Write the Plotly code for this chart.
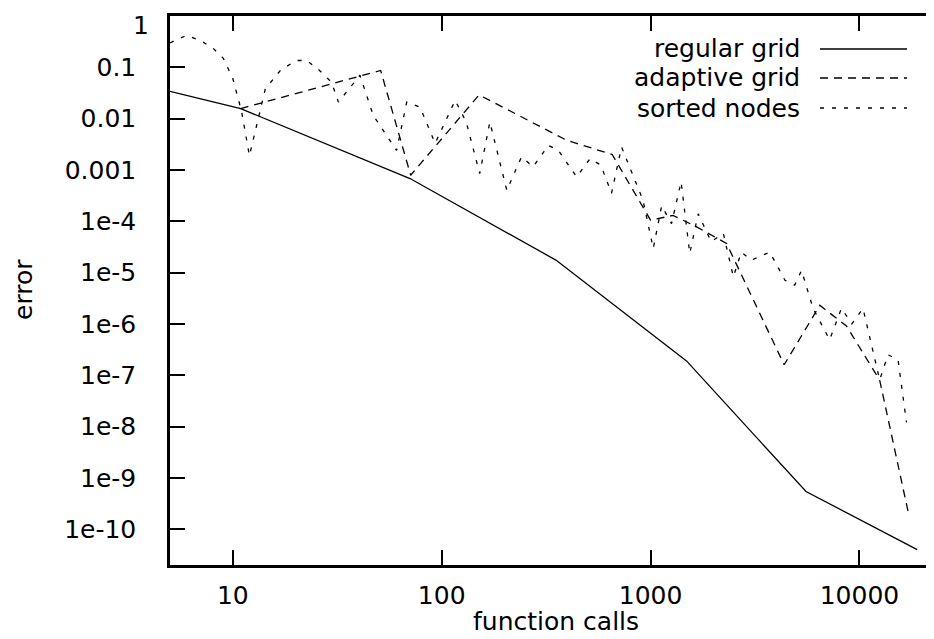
import plotly.graph_objects as go
import numpy as np

# ---------------- data ----------------
regular_x = [5, 10.9, 70.5, 352, 1486, 5550, 18900]
regular_y = [0.034, 0.0157, 6.8e-4, 1.75e-5, 1.9e-7, 5.4e-10, 4.0e-11]

adaptive_x = [10.9, 51, 71, 151, 396, 655, 1000, 1280, 1660, 2310, 4360, 6460, 8670, 12500, 17100]
adaptive_y = [0.0157, 0.087, 7.9e-4, 0.029, 0.0038, 0.002, 1.05e-4, 1.3e-4, 7.8e-5, 3.7e-5,
              1.6e-7, 2.3e-6, 9.1e-7, 8.0e-8, 2.2e-10]

sorted_x = [5, 6, 7, 8, 9, 10, 11, 12, 14.3, 17, 20.2, 22.6, 26, 29.7, 32, 40.6, 47, 60.8, 68,
            78.7, 93, 116, 131, 152, 170, 205, 241, 274, 324, 362, 443, 513, 578, 650, 726,
            919, 1030, 1130, 1260, 1400, 1540, 1690, 1950, 2230, 2490, 2720, 3040, 3720, 4400,
            4900, 5280, 6000, 7200, 8200, 9200, 10400, 12500, 13700, 15300, 16800]
sorted_y = [0.3, 0.42, 0.33, 0.24, 0.15, 0.06, 0.014, 0.0019, 0.038, 0.09, 0.136, 0.136, 0.087,
            0.051, 0.021, 0.07, 0.0116, 0.0024, 0.021, 0.0168, 0.0033, 0.0227, 0.0086, 8.5e-4,
            0.0086, 4e-4, 0.0018, 0.00115, 0.003, 0.0024, 7.3e-4, 0.00167, 0.00124, 3.5e-4,
            0.0028, 2.6e-4, 2.95e-5, 2e-4, 9e-5, 5.9e-4, 2.36e-5, 1.4e-4, 4e-5, 5.8e-5, 8.3e-6,
            2.5e-5, 1.75e-5, 2.5e-5, 7.1e-6, 5.7e-6, 1.1e-5, 2e-6, 4.9e-7, 2e-6, 1.0e-6, 2e-6,
            8.1e-8, 2.5e-7, 2e-7, 1.2e-8]

series_names = ["regular grid", "adaptive grid", "sorted nodes"]
series_dash = ["solid", "8px,6px", "4px,8px"]

x_tickvals = [10, 100, 1000, 10000]
x_ticktext = ["10", "100", "1000", "10000"]
y_tickvals = [1, 0.1, 0.01, 0.001, 1e-4, 1e-5, 1e-6, 1e-7, 1e-8, 1e-9, 1e-10]
y_ticktext = ["1", "0.1", "0.01", "0.001", "1e-4", "1e-5", "1e-6", "1e-7", "1e-8", "1e-9", "1e-10"]

x_title = "function calls"
y_title = "error"

# ---------------- figure ----------------
# the page body has an 8px margin, so the figure starts at (8, 8) on screen
OFF = 8
W, H = 934 - OFF, 639 - OFF
L, R, T, B = 170 - OFF, 0, 16 - OFF, 639 - 565
pw, ph = W - L - R, H - T - B
FONT = "DejaVu Sans, Verdana, sans-serif"
FS = 25


def px(xpix):  # screen pixel -> paper coordinate
    return (xpix - OFF - L) / pw


def py(ypix):
    return (H - B - (ypix - OFF)) / ph


fig = go.Figure()
for name, xs, ys, dash in zip(series_names,
                              [regular_x, adaptive_x, sorted_x],
                              [regular_y, adaptive_y, sorted_y],
                              series_dash):
    fig.add_trace(go.Scatter(x=xs, y=ys, mode="lines", name=name, showlegend=False,
                             line=dict(color="black", width=1.3, dash=dash)))

# empty trace carrying the right-hand tick axis
fig.add_trace(go.Scatter(x=[], y=[], yaxis="y2", showlegend=False, hoverinfo="skip"))

xr = [np.log10(5), 4.357]
yr = [np.log10(2e-11), 0.0005]

# the top label ("1") is nudged down inside the canvas, as in the reference
y_ticktext_axis = [""] + y_ticktext[1:]

fig.update_layout(
    width=W, height=H,
    margin=dict(l=L, r=R, t=T, b=B, pad=0),
    paper_bgcolor="white", plot_bgcolor="white",
    font=dict(family=FONT, size=FS, color="black"),
    xaxis=dict(type="log", range=xr, showgrid=False, zeroline=False,
               showline=True, linecolor="black", linewidth=2.5, mirror="ticks",
               ticks="inside", ticklen=15, tickwidth=2, tickcolor="black",
               tickvals=x_tickvals, ticktext=x_ticktext, ticklabelstandoff=6),
    yaxis=dict(type="log", range=yr, showgrid=False, zeroline=False,
               showline=True, linecolor="black", linewidth=2.5, mirror=False,
               ticks="inside", ticklen=15, tickwidth=2, tickcolor="black",
               tickvals=y_tickvals, ticktext=y_ticktext_axis, ticklabelstandoff=26),
    yaxis2=dict(type="log", range=yr, overlaying="y", side="right", anchor="free",
                position=1.0, showgrid=False, zeroline=False, showline=False,
                ticks="inside", ticklen=8, tickwidth=2, tickcolor="black",
                tickvals=y_tickvals, showticklabels=False),
    showlegend=False,
)

fig.add_annotation(text=y_ticktext[0], xref="paper", yref="paper", x=px(151), y=py(26),
                   showarrow=False, xanchor="right", yanchor="middle", font=dict(size=FS))

# axis titles
fig.add_annotation(text=y_title, xref="paper", yref="paper", x=px(23), y=py(290),
                   showarrow=False, textangle=-90, xanchor="center", yanchor="middle",
                   font=dict(size=FS))
fig.add_annotation(text=x_title, xref="paper", yref="paper", x=px(556), y=py(622),
                   showarrow=False, xanchor="center", yanchor="middle", font=dict(size=FS))

# gnuplot-style key: text right-aligned, sample on the right
key_y = [49, 78, 108]
for name, dash, yk in zip(series_names, series_dash, key_y):
    fig.add_annotation(text=name, xref="paper", yref="paper", x=px(802), y=py(yk),
                       showarrow=False, xanchor="right", yanchor="middle", font=dict(size=FS))
    fig.add_shape(type="line", xref="paper", yref="paper", x0=px(820), x1=px(907),
                  y0=py(yk), y1=py(yk), line=dict(color="black", width=1.3, dash=dash))

fig.write_html("out.html")
